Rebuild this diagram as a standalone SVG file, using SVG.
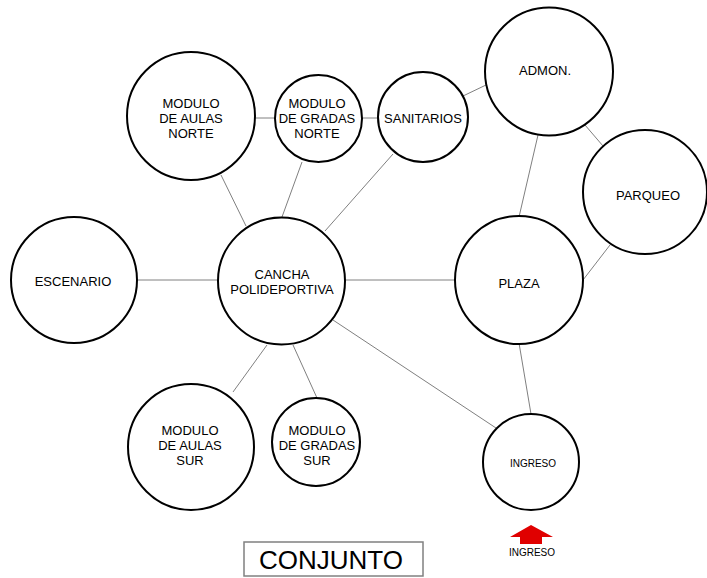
<svg xmlns="http://www.w3.org/2000/svg" width="707" height="578" viewBox="0 0 707 578">
<style>
.n circle{fill:#fff;stroke:#000;stroke-width:2}
text{font-family:"Liberation Sans",Arial,sans-serif;font-size:13px;fill:#000;text-anchor:middle}
.s{font-size:10px}
#connectors line{stroke:#808080;stroke-width:1}
</style>
<rect width="707" height="578" fill="#fff"/>
<g id="connectors">
<line x1="138" y1="280" x2="218" y2="280"/>
<line x1="345" y1="280" x2="455" y2="280"/>
<line x1="255" y1="118" x2="275" y2="118"/>
<line x1="362" y1="118" x2="378" y2="118"/>
<line x1="463" y1="96" x2="486" y2="85"/>
<line x1="221" y1="175" x2="246" y2="226"/>
<line x1="302" y1="162" x2="282" y2="217"/>
<line x1="393" y1="154" x2="325" y2="231"/>
<line x1="538" y1="135" x2="519" y2="217"/>
<line x1="585" y1="125" x2="603" y2="146"/>
<line x1="610" y1="245" x2="583" y2="280"/>
<line x1="267" y1="345" x2="233" y2="392"/>
<line x1="293" y1="345" x2="317" y2="398"/>
<line x1="333" y1="320" x2="496" y2="428"/>
<line x1="519" y1="343" x2="531" y2="414"/>
</g>
<g id="aulas-norte" class="n"><circle cx="191" cy="116" r="64"/><text x="191" y="108">MODULO</text><text x="191" y="123">DE AULAS</text><text x="191" y="138">NORTE</text></g>
<g id="gradas-norte" class="n"><circle cx="318.5" cy="118.5" r="43.5"/><text x="317" y="108">MODULO</text><text x="317" y="123">DE GRADAS</text><text x="317" y="138">NORTE</text></g>
<g id="sanitarios" class="n"><circle cx="423" cy="117" r="45"/><text x="423" y="123">SANITARIOS</text></g>
<g id="escenario" class="n"><circle cx="74" cy="280" r="63"/><text x="73" y="286">ESCENARIO</text></g>
<g id="cancha" class="n"><circle cx="281.5" cy="281" r="63.5"/><text x="282" y="279">CANCHA</text><text x="282" y="294">POLIDEPORTIVA</text></g>
<g id="admon" class="n"><circle cx="549" cy="71.5" r="64"/><text x="545" y="75">ADMON.</text></g>
<g id="parqueo" class="n"><circle cx="645" cy="192" r="62"/><text x="648" y="200">PARQUEO</text></g>
<g id="plaza" class="n"><circle cx="519" cy="280" r="64"/><text x="519" y="288">PLAZA</text></g>
<g id="aulas-sur" class="n"><circle cx="191" cy="447" r="63"/><text x="190" y="435">MODULO</text><text x="190" y="450">DE AULAS</text><text x="190" y="465">SUR</text></g>
<g id="gradas-sur" class="n"><circle cx="316" cy="442" r="44"/><text x="317" y="435">MODULO</text><text x="317" y="450">DE GRADAS</text><text x="317" y="465">SUR</text></g>
<g id="ingreso" class="n"><circle cx="531" cy="462" r="48"/><text class="s" x="533" y="467">INGRESO</text></g>
<g id="ingreso-arrow">
<polygon points="531,525 553,537 542,537 542,544 520,544 520,537 510,537" fill="#e00000"/>
<text class="s" x="532" y="556">INGRESO</text>
</g>
<g id="title">
<rect x="244" y="542" width="179" height="34" fill="#fff" stroke="#808080" stroke-width="1.5"/>
<text x="331" y="569" style="font-size:26px">CONJUNTO</text>
</g>
</svg>
